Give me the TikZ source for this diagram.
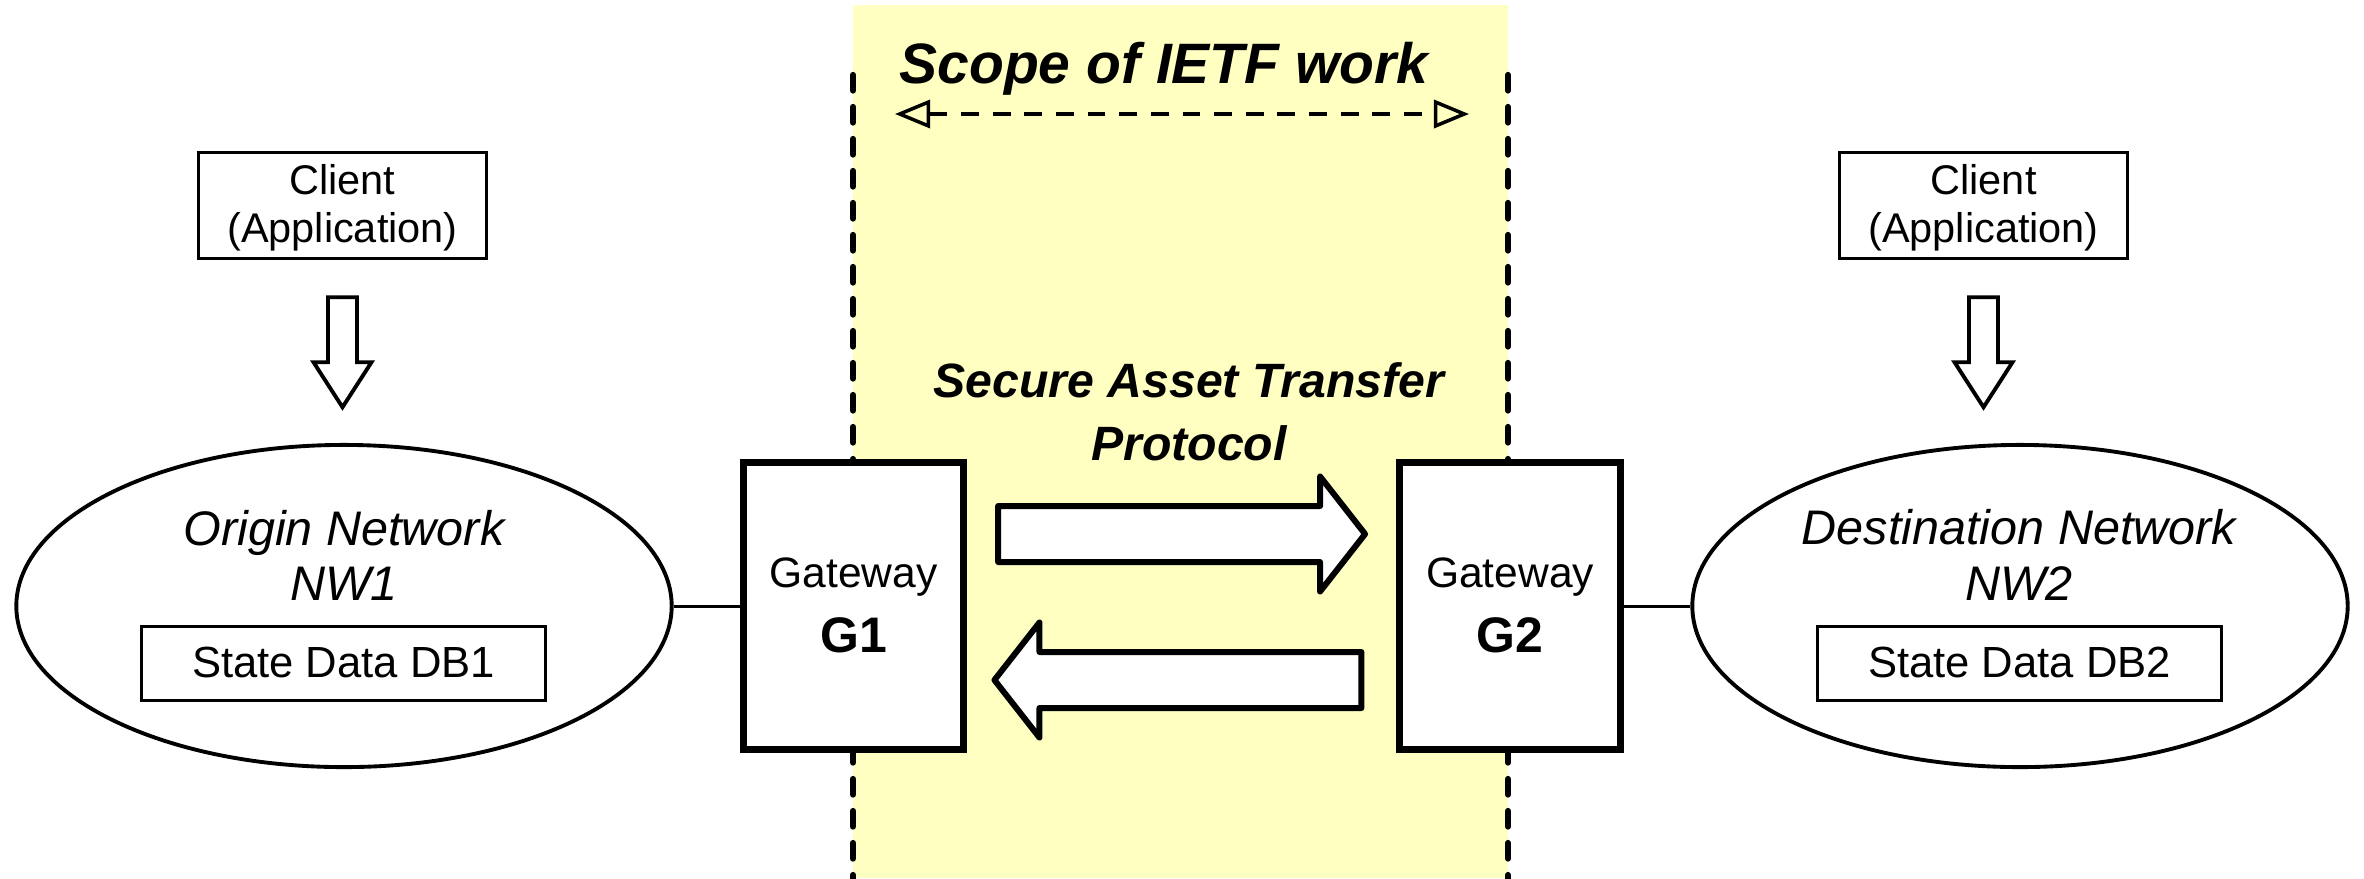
\documentclass[tikz,border=0pt]{standalone}
\usepackage{fontspec}
\setmainfont{Liberation Sans}
\usetikzlibrary{arrows.meta,calc,shapes.geometric}

\definecolor{scopeyellow}{RGB}{255,255,194}

\begin{document}
\begin{tikzpicture}[x=0.01cm,y=-0.01cm,
  % scope band edges and the span arrow
  scopeedge/.style={line width=1.8pt, line cap=round, dash pattern=on 4.4pt off 4.7pt},
  span/.style={line width=1pt, dash pattern=on 5.1pt off 3.9pt,
    {Triangle[open,length=10pt,width=8pt]}-{Triangle[open,length=10pt,width=8pt]}},
  scopetitle/.style={font=\fontsize{16.2}{19}\selectfont\bfseries\itshape, inner sep=0pt, anchor=base},
  protolabel/.style={font=\fontsize{13.7}{16}\selectfont\bfseries\itshape, inner sep=0pt, anchor=base},
  % boxes
  clientbox/.style={draw, line width=0.95pt, fill=white, minimum width=2.88cm, minimum height=1.06cm,
    inner sep=0pt},
  clienttext/.style={font=\fontsize{11.8}{13.5}\selectfont, inner sep=0pt, anchor=base},
  dbbox/.style={draw, line width=0.9pt, fill=white, minimum width=4.04cm, minimum height=0.74cm,
    inner sep=0pt},
  dbtext/.style={font=\fontsize{12.4}{14}\selectfont, inner sep=0pt, anchor=base},
  gwbox/.style={draw, line width=2pt, fill=white, minimum width=2.20cm, minimum height=2.87cm,
    inner sep=0pt},
  gwname/.style={font=\fontsize{12.1}{14}\selectfont, inner sep=0pt, anchor=base},
  gwid/.style={font=\fontsize{14.2}{16}\selectfont\bfseries, inner sep=0pt, anchor=base},
  network/.style={draw, ellipse, line width=1.1pt, fill=white, minimum width=6.55cm,
    minimum height=3.22cm, inner sep=0pt},
  netname/.style={font=\fontsize{13.8}{15.8}\selectfont\itshape, inner sep=0pt, anchor=base},
  link/.style={line width=0.85pt},
  hollow/.style={draw=black, fill=white, line join=miter},
  % block arrows
  downarrow/.pic={\draw[hollow, line width=1.1pt]
      (-14.5,0) -- (14.5,0) -- (14.5,65) -- (29,65) -- (0,110) -- (-29,65) -- (-14.5,65) -- cycle;},
  bigarrow/.pic={\draw[hollow, line width=1.7pt, line join=round]
      (0,-28) -- (322,-28) -- (322,-57.5) -- (367,0) -- (322,57.5) -- (322,28) -- (0,28) -- cycle;}
]
\useasboundingbox (0,0) rectangle (2364,878);

% scope of the IETF work
\fill[scopeyellow] (853,5) rectangle (1508,878);
\coordinate (ScopeLtop) at (853,75);
\coordinate (ScopeLbot) at (853,884);
\coordinate (ScopeRtop) at (1508,75);
\coordinate (ScopeRbot) at (1508,884);
\draw[scopeedge] (ScopeLtop) -- (ScopeLbot);
\draw[scopeedge] (ScopeRtop) -- (ScopeRbot);
\node[scopetitle] (scope) at (1164,83) {Scope of IETF work};
\coordinate (SpanL) at (895,114);
\coordinate (SpanR) at (1469,114);
\draw[span] (SpanL) -- (SpanR);

% clients
\node[clientbox] (C1) at (342.5,205.5) {};
\node[clientbox] (C2) at (1983.5,205.5) {};
\node[clienttext] (C1a) at (342.5,194) {Client};
\node[clienttext] (C1b) at (342.5,242) {(Application)};
\node[clienttext] (C2a) at (1983.5,194) {Client};
\node[clienttext] (C2b) at (1983.5,242) {(Application)};
\pic at ($(C1.south)+(0,37)$) {downarrow};
\pic at ($(C2.south)+(0,37)$) {downarrow};

% networks
\node[network] (N1) at (344,606) {};
\node[network] (N2) at (2020,606) {};
\node[netname] (N1a) at (344,545) {Origin Network};
\node[netname] (N1b) at (344,600) {NW1};
\node[netname] (N2a) at (2019,544) {Destination Network};
\node[netname] (N2b) at (2019,600) {NW2};
\node[dbbox] (DB1) at (343.5,663.5) {};
\node[dbbox] (DB2) at (2019.5,663.5) {};
\node[dbtext] (DB1t) at (343.5,677) {State Data DB1};
\node[dbtext] (DB2t) at (2019.5,677) {State Data DB2};

% gateways
\node[gwbox] (G1) at (853.5,606) {};
\node[gwbox] (G2) at (1510,606) {};
\node[gwname] (G1n) at (853.5,587) {Gateway};
\node[gwname] (G2n) at (1510,587) {Gateway};
\node[gwid] (G1i) at (853.5,652) {G1};
\node[gwid] (G2i) at (1510,652) {G2};

% links between networks and gateways
\draw[link] (N1.east) -- (G1.west);
\draw[link] (G2.east) -- (N2.west);

% protocol exchange
\node[protolabel] (proto1) at (1189,397) {Secure Asset Transfer};
\node[protolabel] (proto2) at (1189,460) {Protocol};
\pic at ($(G1.east)+(31,-72)$) {bigarrow};
\pic[rotate=180] at ($(G2.west)+(-35,74)$) {bigarrow};
\end{tikzpicture}
\end{document}
